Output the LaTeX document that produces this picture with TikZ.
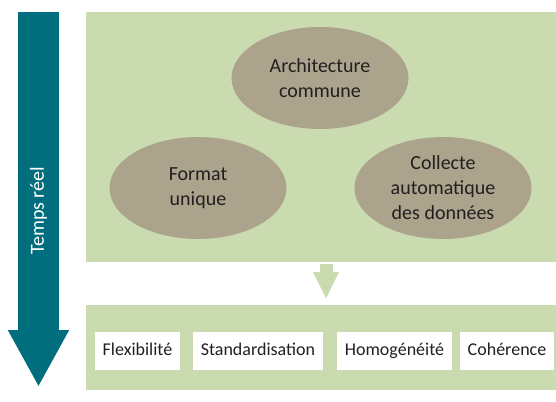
\documentclass[tikz,border=0pt]{standalone}
\usepackage{fontspec}
\setmainfont{Carlito}
\usetikzlibrary{shapes.geometric,arrows.meta}

\definecolor{bleutemps}{RGB}{0,110,125}
\definecolor{vertpale}{RGB}{203,219,176}
\definecolor{taupe}{RGB}{171,163,140}
\definecolor{encre}{RGB}{35,31,32}

\begin{document}
\begin{tikzpicture}[x=1pt,y=-1pt]
    % ===================================
    % réglages
    % ===================================
    \def\gauche{86}   % bord gauche des panneaux
    \def\droite{556}  % bord droit des panneaux
    \def\ybas{351}    % hauteur des étiquettes du bas

    \tikzset{
        panneau/.style={fill=vertpale, draw=none},
        bulle/.style={ellipse, fill=taupe, text=encre, align=center,
            minimum width=177pt, minimum height=102pt, inner sep=0pt,
            font=\fontsize{20}{25}\selectfont},
        etiquette/.style={fill=white, text=encre, minimum height=38pt,
            text height=13pt, text depth=4pt,
            inner xsep=8pt, font=\fontsize{18}{22}\selectfont}
    }
    % ===================================

    \useasboundingbox (0,0) rectangle (556,401);

    % 1. flèche du temps
    \coordinate (debut) at (38.5,12);
    \coordinate (fin) at (38.5,387);
    \draw[bleutemps, line width=41pt,
        -{Triangle[width=57pt,length=57pt]}] (debut) -- (fin)
        node[pos=0.53, rotate=90, text=white,
            font=\fontsize{20}{24}\selectfont] (temps) {Temps réel};

    % 2. les deux panneaux verts
    \path[panneau] (\gauche,12) rectangle (\droite,262);
    \coordinate (haut) at (326,262);
    \path[panneau] (\gauche,305) rectangle (\droite,390);
    \coordinate (bas) at (326,305);

    % petite flèche entre les panneaux
    \draw[vertpale, line width=13pt,
        -{Triangle[width=24pt,length=27pt]}, shorten >=6pt]
        ([yshift=-2pt]haut) -- (bas);

    % 3. les trois bulles
    \node[bulle] (archi) at (320,78) {Architecture\\commune};
    \node[bulle] (format) at (198,188) {Format\\unique};
    \node[bulle] (collecte) at (443,188) {Collecte\\automatique\\des données};

    % 4. les étiquettes du bas
    \node[etiquette] (flex) at (137.5,\ybas) {Flexibilité};
    \node[etiquette] (standard) at (258,\ybas) {Standardisation};
    \node[etiquette] (homog) at (394.5,\ybas) {Homogénéité};
    \node[etiquette] (coher) at (507,\ybas) {Cohérence};

\end{tikzpicture}
\end{document}
